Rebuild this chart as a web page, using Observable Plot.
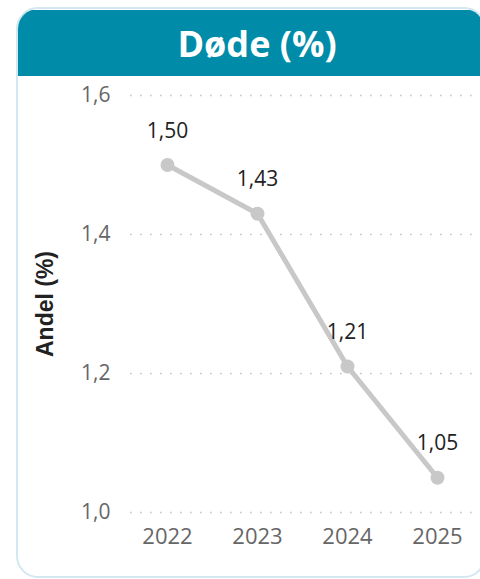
<!DOCTYPE html>
<html>
<head>
<meta charset="utf-8">
<script src="https://cdn.jsdelivr.net/npm/d3@7"></script>
<script src="https://cdn.jsdelivr.net/npm/@observablehq/plot@0.6"></script>
<style>
  html, body { margin: 0; padding: 0; width: 480px; height: 579px; overflow: hidden; background: #fff; font-family: "Open Sans", sans-serif; }
  #card { position: absolute; left: 16px; top: 7px; width: 466px; height: 567px; border: 2px solid #d2e7ef; border-radius: 22px; overflow: hidden; background: #fff; }
  #header { position: absolute; left: 0; top: 1px; right: 0; height: 66px; background: #008ca8; color: #fff; font-weight: 700; font-size: 36px; text-align: center; line-height: 68px; padding-left: 12px; }
  #chart { position: absolute; left: 0; top: 0; width: 500px; }
  #chart svg { max-width: none !important; }
</style>
</head>
<body>
<div id="card"><div id="header">Døde (%)</div></div>
<div id="chart"></div>
<script>
const years = ["2022", "2023", "2024", "2025"];
const values = [1.50, 1.43, 1.21, 1.05];
const yTicks = [1.0, 1.2, 1.4, 1.6];
const yLabel = "Andel (%)";

const data = years.map((y, i) => ({year: y, value: values[i]}));
const fmt2 = d => d.toFixed(2).replace(".", ",");
const fmt1 = d => d.toFixed(1).replace(".", ",");

const plot = Plot.plot({
  width: 500,
  height: 579,
  marginLeft: 122,
  marginRight: 18,
  marginTop: 95,
  marginBottom: 67,
  style: {background: "transparent", fontFamily: "'Open Sans', sans-serif", overflow: "visible", maxWidth: "none"},
  x: {type: "point", domain: years, padding: 0.5, label: null},
  y: {domain: [1.0, 1.6], ticks: yTicks, label: null},
  marks: [
    Plot.gridY(yTicks, {stroke: "#c4c4c4", strokeOpacity: 1, strokeWidth: 1.6, strokeDasharray: "1.6,8.4", insetLeft: 8}),
    Plot.axisY(yTicks, {tickSize: 0, tickPadding: 12, tickFormat: fmt1, fontSize: 21, fill: "#666", label: null}),
    Plot.axisX({tickSize: 0, tickPadding: 16, fontSize: 22, fill: "#666", label: null}),
    Plot.text([yLabel], {frameAnchor: "left", textAnchor: "middle", dx: -77, rotate: -90, fontSize: 23, fontWeight: "bold", fill: "#222", fontFamily: "'Liberation Sans', Arial, sans-serif"}),
    Plot.line(data, {x: "year", y: "value", stroke: "#c8c8c8", strokeWidth: 5}),
    Plot.dot(data, {x: "year", y: "value", r: 7, fill: "#c8c8c8", stroke: "none"}),
    Plot.text(data, {x: "year", y: "value", text: d => fmt2(d.value), dy: -34, fontSize: 21, fill: "#222"})
  ]
});
document.getElementById("chart").appendChild(plot);
</script>
</body>
</html>
